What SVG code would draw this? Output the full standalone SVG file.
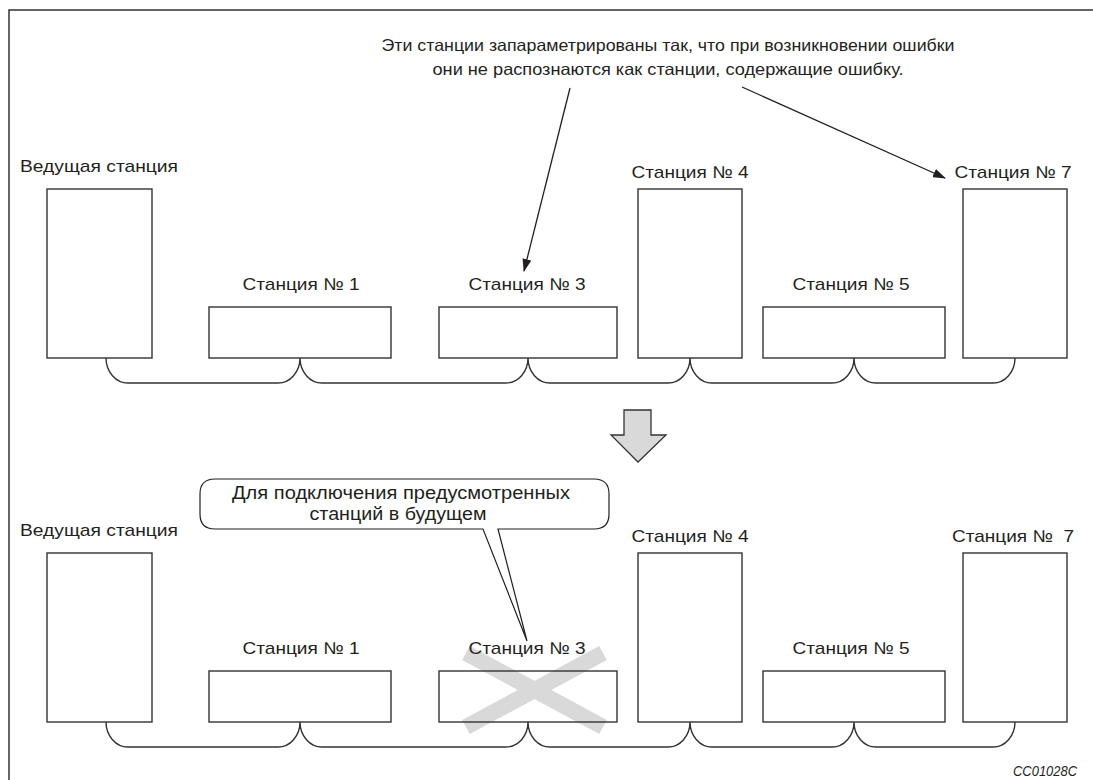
<svg xmlns="http://www.w3.org/2000/svg" width="1093" height="780" viewBox="0 0 1093 780">
<style>
.frame{fill:none;stroke:#333;stroke-width:1.5}
.box{fill:none;stroke:#333;stroke-width:1.4}
.bus{fill:none;stroke:#333;stroke-width:1.4}
.lbl{font-family:"Liberation Sans",Arial,sans-serif;font-size:17px;fill:#231f20}
.note{font-size:16.5px}
.bub{font-size:17.5px}
.mid{text-anchor:middle}
.arr{stroke:#231f20;stroke-width:1.3;fill:none}
.cross{stroke:#d9d9d9;stroke-width:16;fill:none}
.code{font-family:"Liberation Sans",Arial,sans-serif;font-size:14px;font-style:italic;fill:#231f20;text-anchor:end}
</style>
<defs>
<marker id="ah" markerUnits="userSpaceOnUse" markerWidth="13" markerHeight="9" refX="12" refY="4.5" orient="auto">
<path d="M0,0 L13,4.5 L0,9 z" fill="#231f20"/>
</marker>
</defs>
<rect width="1093" height="780" fill="#fff"/>
<path class="frame" d="M9,780 V10 H1093"/>

<g id="note-top">
<text class="lbl note mid" x="668" y="51" textLength="573" lengthAdjust="spacingAndGlyphs">Эти станции запараметрированы так, что при возникновении ошибки</text>
<text class="lbl note mid" x="668" y="75" textLength="471" lengthAdjust="spacingAndGlyphs">они не распознаются как станции, содержащие ошибку.</text>
</g>

<g id="top-master"><rect class="box" x="47" y="189" width="105" height="169"/><text class="lbl" x="20" y="172" textLength="158" lengthAdjust="spacingAndGlyphs">Ведущая станция</text></g>
<g id="top-st1"><rect class="box" x="209" y="307" width="182" height="51"/><text class="lbl mid" x="301" y="290" textLength="117" lengthAdjust="spacingAndGlyphs">Станция № 1</text></g>
<g id="top-st3"><rect class="box" x="439" y="307" width="178" height="51"/><text class="lbl mid" x="527" y="290" textLength="117" lengthAdjust="spacingAndGlyphs">Станция № 3</text></g>
<g id="top-st4"><rect class="box" x="638" y="189" width="104" height="169"/><text class="lbl mid" x="690" y="178" textLength="117" lengthAdjust="spacingAndGlyphs">Станция № 4</text></g>
<g id="top-st5"><rect class="box" x="763" y="307" width="182" height="51"/><text class="lbl mid" x="851" y="290" textLength="117" lengthAdjust="spacingAndGlyphs">Станция № 5</text></g>
<g id="top-st7"><rect class="box" x="963" y="189" width="104" height="169"/><text class="lbl mid" x="1013" y="178" textLength="117" lengthAdjust="spacingAndGlyphs">Станция № 7</text></g>

<g id="down-arrow"><path d="M624,410 H651 V435 H666 L638,462 L611,435 H624 Z" fill="#d9d9d9" stroke="#333" stroke-width="1.3"/></g>

<g id="bottom-callout">
<path d="M215,479 H594 Q609,479 609,494 V514 Q609,529 594,529 H498 L527,641 L483,529 H215 Q200,529 200,514 V494 Q200,479 215,479 Z" fill="#fff" stroke="#231f20" stroke-width="1.2"/>
<text class="lbl bub mid" x="401" y="499" textLength="338" lengthAdjust="spacingAndGlyphs">Для подключения предусмотренных</text>
<text class="lbl bub mid" x="398" y="520" textLength="177" lengthAdjust="spacingAndGlyphs">станций в будущем</text>
</g>

<g id="bottom-master"><rect class="box" x="47" y="553" width="105" height="169"/><text class="lbl" x="20" y="536" textLength="158" lengthAdjust="spacingAndGlyphs">Ведущая станция</text></g>
<g id="bottom-st1"><rect class="box" x="209" y="671" width="182" height="51"/><text class="lbl mid" x="301" y="654" textLength="117" lengthAdjust="spacingAndGlyphs">Станция № 1</text></g>
<g id="bottom-st3">
<path class="cross" d="M466,653 L603,727 M603,653 L466,727"/>
<rect class="box" x="439" y="671" width="178" height="51"/><text class="lbl mid" x="527" y="654" textLength="117" lengthAdjust="spacingAndGlyphs">Станция № 3</text></g>
<g id="bottom-st4"><rect class="box" x="638" y="553" width="104" height="169"/><text class="lbl mid" x="690" y="542" textLength="117" lengthAdjust="spacingAndGlyphs">Станция № 4</text></g>
<g id="bottom-st5"><rect class="box" x="763" y="671" width="182" height="51"/><text class="lbl mid" x="851" y="654" textLength="117" lengthAdjust="spacingAndGlyphs">Станция № 5</text></g>
<g id="bottom-st7"><rect class="box" x="963" y="553" width="104" height="169"/><text class="lbl mid" x="1013" y="542" xml:space="preserve" textLength="122" lengthAdjust="spacingAndGlyphs">Станция №  7</text></g>

<g id="connectors">
<line class="arr" x1="570" y1="88" x2="524" y2="271" marker-end="url(#ah)"/>
<line class="arr" x1="742" y1="87" x2="945" y2="178" marker-end="url(#ah)"/>
<path class="bus" d="M106,358 A22,25 0 0 0 128,383 H278 A22,25 0 0 0 300,358 A22,25 0 0 0 322,383 H506 A22,25 0 0 0 528,358 A22,25 0 0 0 550,383 H668 A22,25 0 0 0 690,358 A22,25 0 0 0 712,383 H832 A22,25 0 0 0 854,358 A22,25 0 0 0 876,383 H993 A22,25 0 0 0 1015,358"/>
<path class="bus" d="M106,722 A22,25 0 0 0 128,747 H278 A22,25 0 0 0 300,722 A22,25 0 0 0 322,747 H506 A22,25 0 0 0 528,722 A22,25 0 0 0 550,747 H668 A22,25 0 0 0 690,722 A22,25 0 0 0 712,747 H832 A22,25 0 0 0 854,722 A22,25 0 0 0 876,747 H993 A22,25 0 0 0 1015,722"/>
</g>

<text class="code" x="1077" y="776" textLength="64" lengthAdjust="spacingAndGlyphs">CC01028C</text>
</svg>
